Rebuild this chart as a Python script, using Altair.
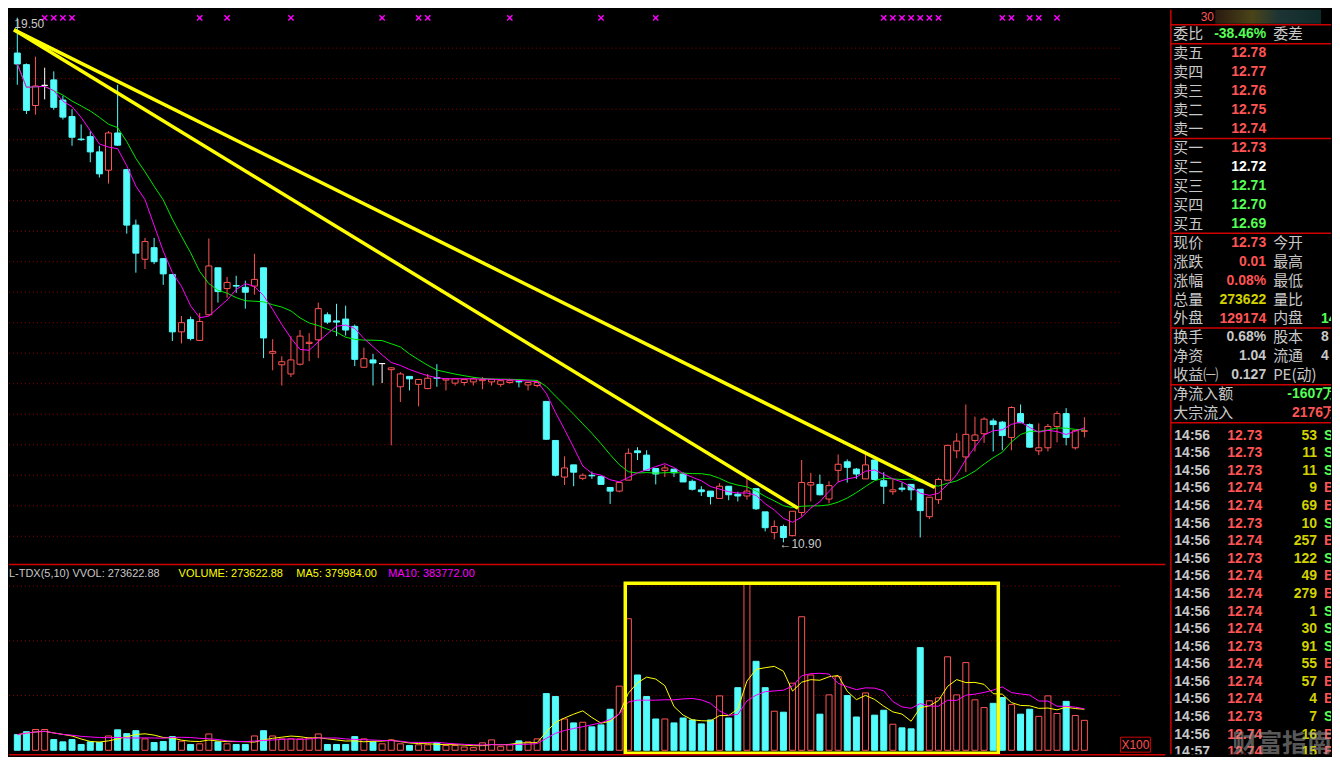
import altair as alt
import pandas as pd

# ---------------- data ----------------
opens = [18.92, 18.73, 18.06, 18.39, 18.48, 18.15, 17.88, 17.51, 17.55, 17.30,
         17.00, 17.61, 17.01, 16.10, 15.54, 15.73, 15.55, 15.29, 14.35, 14.55,
         14.21, 14.63, 15.40, 15.06, 15.11, 15.08, 15.10, 15.40, 14.00, 13.81,
         13.66, 13.82, 14.16, 14.22, 14.63, 14.53, 14.56, 14.44, 13.77, 13.89,
         13.83, 13.73, 13.45, 13.62, 13.49, 13.42, 13.60, 13.56, 13.51, 13.52,
         13.53, 13.55, 13.53, 13.49, 13.52, 13.54, 13.48, 13.47, 13.21, 12.57,
         11.97, 12.17, 11.95, 12.00, 11.98, 11.80, 11.74, 11.92, 12.40, 12.33,
         12.11, 12.08, 12.10, 12.02, 11.90, 11.76, 11.74, 11.62, 11.82, 11.69,
         11.66, 11.78, 11.40, 11.06, 11.16, 11.01, 11.39, 11.84, 11.85, 11.61,
         12.08, 12.22, 12.10, 11.94, 12.25, 11.91, 11.73, 11.79, 11.85, 11.77,
         11.32, 11.60, 11.92, 12.40, 12.30, 12.57, 12.68, 12.89, 12.87, 12.62,
         13.01, 12.83, 12.40, 12.45, 12.80, 13.01, 12.45, 12.72]
highs = [19.50, 18.75, 18.86, 18.68, 18.62, 18.22, 18.00, 17.75, 17.64, 17.40,
         17.64, 18.40, 17.02, 16.19, 15.89, 15.89, 15.56, 15.29, 14.61, 14.60,
         14.66, 15.88, 15.40, 15.25, 15.27, 15.19, 15.63, 15.40, 14.23, 13.95,
         14.28, 14.38, 14.33, 14.83, 14.67, 14.81, 14.78, 14.47, 14.09, 13.99,
         13.83, 13.77, 13.69, 13.62, 13.57, 13.66, 13.82, 13.58, 13.59, 13.57,
         13.61, 13.61, 13.57, 13.55, 13.58, 13.56, 13.52, 13.55, 13.21, 12.57,
         12.31, 12.17, 12.03, 12.06, 11.98, 11.80, 11.88, 12.44, 12.46, 12.41,
         12.11, 12.17, 12.10, 12.05, 11.93, 11.82, 11.74, 11.87, 11.82, 11.73,
         11.98, 11.78, 11.40, 11.26, 11.19, 11.41, 12.25, 12.04, 12.01, 11.90,
         12.34, 12.26, 12.12, 12.36, 12.25, 12.05, 11.93, 11.88, 11.85, 11.77,
         11.64, 11.96, 12.49, 12.69, 13.16, 12.96, 12.95, 12.93, 12.89, 13.13,
         13.16, 12.85, 12.85, 12.84, 13.05, 13.10, 12.73, 12.95]
lows = [18.40, 17.92, 17.91, 18.16, 17.99, 17.83, 17.40, 17.48, 17.13, 16.88,
        16.78, 17.40, 15.96, 15.32, 15.38, 15.46, 15.12, 14.20, 14.16, 14.21,
        14.20, 14.62, 14.83, 14.91, 14.99, 14.73, 14.96, 13.92, 13.72, 13.47,
        13.61, 13.80, 13.87, 13.92, 14.48, 14.28, 14.29, 13.79, 13.77, 13.47,
        13.51, 12.49, 13.20, 13.39, 13.13, 13.41, 13.45, 13.39, 13.47, 13.47,
        13.47, 13.41, 13.47, 13.45, 13.50, 13.44, 13.39, 13.44, 12.58, 11.98,
        11.84, 11.82, 11.92, 11.94, 11.85, 11.53, 11.72, 11.92, 12.25, 12.08,
        11.85, 11.97, 11.97, 11.89, 11.75, 11.66, 11.52, 11.62, 11.59, 11.57,
        11.60, 11.43, 11.08, 10.95, 10.90, 11.00, 11.32, 11.57, 11.67, 11.54,
        11.89, 11.88, 11.94, 11.94, 11.93, 11.53, 11.68, 11.73, 11.59, 10.98,
        11.28, 11.53, 11.92, 12.28, 12.05, 12.39, 12.53, 12.39, 12.41, 12.41,
        12.86, 12.45, 12.33, 12.39, 12.54, 12.49, 12.42, 12.62]
closes = [18.74, 17.98, 18.38, 18.39, 18.03, 17.87, 17.54, 17.50, 17.30, 16.94,
          17.61, 17.41, 16.10, 15.64, 15.83, 15.50, 15.30, 14.35, 14.50, 14.24,
          14.52, 15.43, 15.01, 15.16, 15.10, 15.00, 15.21, 14.25, 14.03, 13.86,
          13.89, 14.28, 14.18, 14.73, 14.51, 14.51, 14.38, 13.90, 13.91, 13.84,
          13.83, 13.76, 13.66, 13.58, 13.57, 13.59, 13.59, 13.58, 13.58, 13.57,
          13.58, 13.57, 13.57, 13.55, 13.55, 13.53, 13.52, 13.52, 12.59, 12.00,
          12.12, 12.05, 12.00, 11.99, 11.85, 11.74, 11.88, 12.36, 12.37, 12.08,
          12.02, 12.12, 12.04, 11.89, 11.77, 11.73, 11.65, 11.82, 11.68, 11.66,
          11.74, 11.45, 11.14, 11.16, 10.98, 11.41, 11.88, 11.88, 11.68, 11.83,
          12.18, 12.13, 12.02, 12.17, 11.93, 11.82, 11.76, 11.77, 11.76, 11.42,
          11.64, 11.93, 12.49, 12.56, 12.67, 12.66, 12.92, 12.83, 12.65, 13.11,
          12.86, 12.46, 12.45, 12.80, 13.01, 12.62, 12.73, 12.73]
volumes = [1430, 1700, 1900, 1900, 980, 770, 980, 530, 770, 710,
           1310, 1870, 1520, 1790, 1040, 710, 800, 1250, 830, 530,
           590, 1490, 770, 590, 530, 530, 1310, 1790, 1310, 1040,
           1040, 1040, 1130, 1490, 530, 530, 530, 1250, 1040, 770,
           590, 950, 590, 440, 500, 500, 680, 440, 440, 300,
           240, 680, 950, 330, 500, 860, 770, 1040, 5180, 4910,
           2860, 2500, 2560, 2140, 2320, 3750, 5860, 12020, 6880, 4910,
           2860, 2860, 2500, 2950, 2770, 2410, 2770, 4970, 2950, 5720,
           15200, 8130, 5720, 3570, 3480, 6130, 12200, 6880, 3300, 5060,
           6730, 5000, 3040, 5240, 3210, 3660, 2380, 2050, 1960, 9380,
           4520, 4790, 8540, 5060, 8010, 4610, 3900, 4290, 4820, 4170,
           3300, 3750, 3100, 4970, 3360, 4470, 3180, 2736]
signal_bars = [3, 4, 5, 6, 20, 23, 30, 40, 44, 45, 54, 64, 70,
               95, 96, 97, 98, 99, 100, 101, 108, 109, 111, 112, 114]

price_grid = [11.0, 11.5, 12.0, 12.5, 13.0, 13.5, 14.0, 14.5, 15.0,
              15.5, 16.0, 16.5, 17.0, 17.5, 18.0, 18.5, 19.0]
price_ticks = price_grid + [19.5]
volume_ticks = [5000, 7500, 10000, 12500, 15000]
volume_grid = [5000, 10000, 15000]

trend_start_bar = [-0.36, -0.36]
trend_start_price = [19.30, 19.30]
trend_end_bar = [100.6, 85.6]
trend_end_price = [11.80, 11.46]

box_bar = [66.66, 107.56]
box_vol = [-270, 15270]

vol_header_texts = ["L-TDX(5,10) VVOL: 273622.88", "VOLUME: 273622.88",
                    "MA5: 379984.00", "MA10: 383772.00"]

quote_rows = list(range(1, 22))
quote_labels = ["委比", "卖五", "卖四", "卖三", "卖二", "卖一",
                "买一", "买二", "买三", "买四", "买五",
                "现价", "涨跌", "涨幅", "总量", "外盘",
                "换手", "净资", "收益㈠", "净流入额", "大宗流入"]
quote_values = ["-38.46%", "12.78", "12.77", "12.76", "12.75", "12.74",
                "12.73", "12.72", "12.71", "12.70", "12.69",
                "12.73", "0.01", "0.08%", "273622", "129174",
                "0.68%", "1.04", "0.127", "-1607万", "2176万"]
quote_value_kind = ["dn", "up", "up", "up", "up", "up",
                    "up", "eq", "dn", "dn", "dn",
                    "up", "up", "up", "vol", "up",
                    "nt", "nt", "nt", "dn", "up"]
quote2_rows = [1, 12, 13, 14, 15, 16, 17, 18, 19]
quote2_labels = ["委差", "今开", "最高", "最低", "量比", "内盘", "股本", "流通", "PE(动)"]
quote3_rows = [16, 17, 18]
quote3_values = ["14", "8", "4"]
quote3_kind = ["dn", "nt", "nt"]
separator_rows = [0.5, 1.5, 6.5, 11.5, 16.5, 19.5, 21.5]

tick_times = ["14:56"] * 18 + ["14:57"]
tick_prices = ["12.73", "12.73", "12.73", "12.74", "12.74", "12.73", "12.74", "12.73",
               "12.74", "12.74", "12.74", "12.74", "12.73", "12.74", "12.74", "12.74",
               "12.73", "12.74", "12.74"]
tick_vols = ["53", "11", "11", "9", "69", "10", "257", "122", "49", "279",
             "1", "30", "91", "55", "57", "4", "7", "16", "15"]
tick_sides = ["S", "S", "S", "B", "B", "S", "B", "S", "B", "B",
              "S", "S", "S", "B", "B", "B", "S", "B", "B"]

# ---------------- styling ----------------
BLACK = "#000000"
RED = "#ff5454"
CYAN = "#54fcfc"
WHITE = "#ffffff"
MAG = "#ff00ff"
GREEN = "#00e800"
YEL = "#ffff00"
GRID = "#8a0000"
AXRED = "#d00000"
LBLRED = "#ff5050"
GRAY = "#c8c8c8"
OLIVE = "#d2d200"
BGREEN = "#55ff55"
NUMFONT = "Liberation Sans"
CJK = "Noto Sans CJK SC"

W, HP, HV, AXW, PW = 1113, 555, 191, 46, 161
HT = HP + HV

n = len(opens)
df = pd.DataFrame({"i": list(range(n)), "open": opens, "high": highs,
                   "low": lows, "close": closes, "vol": volumes})
df["wick"] = [RED if c > o else (CYAN if c < o else WHITE) for o, c in zip(opens, closes)]
df["bfill"] = [BLACK if c > o else (CYAN if c < o else WHITE) for o, c in zip(opens, closes)]
df["vfill"] = [CYAN if c < o else BLACK for o, c in zip(opens, closes)]
df["vstroke"] = [CYAN if c < o else RED for o, c in zip(opens, closes)]
df["base"] = 0

xs = alt.Scale(domain=[-0.364, 120.3], nice=False, zero=False)
ps = alt.Scale(domain=[10.552, 19.628], nice=False, zero=False)
vs = alt.Scale(domain=[-446, 16967], nice=False, zero=False)
X = alt.X("i:Q", scale=xs, axis=None)

base = alt.Chart(df)

# ---------------- price panel ----------------
price_axis = alt.Axis(orient="right", values=price_ticks, format=".2f", grid=False,
                      domainColor=AXRED, domainWidth=1.5, tickColor=AXRED, tickSize=5,
                      labelColor=LBLRED, labelFont=NUMFONT, labelFontSize=12,
                      labelAlign="right", labelBaseline="middle", labelPadding=41,
                      labelOverlap=False, labelFlush=False, title=None)
p_grid = alt.Chart(pd.DataFrame({"p": price_grid})).mark_rule(
    color=GRID, strokeDash=[1, 3], strokeWidth=1).encode(
    y=alt.Y("p:Q", scale=ps, axis=price_axis))

trend_df = pd.DataFrame({"x1": trend_start_bar, "x2": trend_end_bar,
                         "p1": trend_start_price, "p2": trend_end_price})
p_trend = alt.Chart(trend_df).mark_rule(color=YEL, strokeWidth=3.5, clip=True).encode(
    x=alt.X("x1:Q", scale=xs, axis=None), x2="x2:Q",
    y=alt.Y("p1:Q", scale=ps, axis=None), y2="p2:Q")

p_wick = base.mark_rule(strokeWidth=1).encode(
    x=X, y=alt.Y("low:Q", scale=ps, axis=None), y2="high:Q",
    color=alt.Color("wick:N", scale=None))
p_body = base.mark_bar(size=6, strokeWidth=1).encode(
    x=X, y=alt.Y("open:Q", scale=ps, axis=None), y2="close:Q",
    fill=alt.Fill("bfill:N", scale=None), stroke=alt.Stroke("wick:N", scale=None))

ma_base = base.transform_window(ma5="mean(close)", frame=[-4, 0], sort=[{"field": "i"}]) \
    .transform_window(ma10="mean(close)", frame=[-9, 0], sort=[{"field": "i"}])
p_ma5 = ma_base.mark_line(color=MAG, strokeWidth=1, clip=True).encode(
    x=X, y=alt.Y("ma5:Q", scale=ps, axis=None))
p_ma10 = ma_base.mark_line(color=GREEN, strokeWidth=1, clip=True).encode(
    x=X, y=alt.Y("ma10:Q", scale=ps, axis=None))

p_sig = alt.Chart(pd.DataFrame({"i": signal_bars})).mark_point(
    shape="M-1,-1L1,1M-1,1L1,-1", size=28, stroke=MAG, strokeWidth=1.4,
    filled=False, opacity=1).encode(x=X, y=alt.value(8))

hi_i = max(range(n), key=lambda k: highs[k])
lo_i = min(range(n), key=lambda k: lows[k])
hi_df = pd.DataFrame({"i": [hi_i], "p": [highs[hi_i]], "t": [f"{highs[hi_i]:.2f}"]})
lo_df = pd.DataFrame({"i": [lo_i], "p": [lows[lo_i]], "t": [f"←{lows[lo_i]:.2f}"]})
p_hi = alt.Chart(hi_df).mark_text(align="left", baseline="middle", dx=-3, dy=6,
                                  color=GRAY, font=NUMFONT, fontSize=12, clip=True).encode(
    x=X, y=alt.Y("p:Q", scale=ps, axis=None), text="t:N")
p_lo = alt.Chart(lo_df).mark_text(align="left", baseline="middle", dx=-4, dy=2,
                                  color=GRAY, font=NUMFONT, fontSize=12, clip=True).encode(
    x=X, y=alt.Y("p:Q", scale=ps, axis=None), text="t:N")

price = alt.layer(p_grid, p_wick, p_body, p_ma10, p_ma5, p_trend, p_sig, p_hi, p_lo).properties(
    width=W, height=HP)

# ---------------- volume panel ----------------
vol_axis = alt.Axis(orient="right", values=volume_ticks, format="d", grid=False,
                    domainColor=AXRED, domainWidth=1.5, tickColor=AXRED, tickSize=5,
                    labelColor=LBLRED, labelFont=NUMFONT, labelFontSize=12,
                    labelAlign="right", labelBaseline="middle", labelPadding=41,
                    labelOverlap=False, labelFlush=False, title=None)
v_grid = alt.Chart(pd.DataFrame({"v": volume_grid})).mark_rule(
    color=GRID, strokeDash=[1, 3], strokeWidth=1).encode(
    y=alt.Y("v:Q", scale=vs, axis=vol_axis))
v_bar = base.mark_bar(size=6, strokeWidth=1).encode(
    x=X, y=alt.Y("vol:Q", scale=vs, axis=None), y2="base:Q",
    fill=alt.Fill("vfill:N", scale=None), stroke=alt.Stroke("vstroke:N", scale=None))
vma_base = base.transform_window(vma5="mean(vol)", frame=[-4, 0], sort=[{"field": "i"}]) \
    .transform_window(vma10="mean(vol)", frame=[-9, 0], sort=[{"field": "i"}])
v_ma5 = vma_base.mark_line(color=YEL, strokeWidth=1, clip=True).encode(
    x=X, y=alt.Y("vma5:Q", scale=vs, axis=None))
v_ma10 = vma_base.mark_line(color=MAG, strokeWidth=1, clip=True).encode(
    x=X, y=alt.Y("vma10:Q", scale=vs, axis=None))
box_df = pd.DataFrame({"b1": [box_bar[0]], "b2": [box_bar[1]],
                       "v1": [box_vol[0]], "v2": [box_vol[1]]})
v_box = alt.Chart(box_df).mark_rect(fillOpacity=0, stroke=YEL, strokeWidth=3.5).encode(
    x=alt.X("b1:Q", scale=xs, axis=None), x2="b2:Q",
    y=alt.Y("v1:Q", scale=vs, axis=None), y2="v2:Q")

one = pd.DataFrame({"k": [0]})
v_top = alt.Chart(one).mark_rule(color=AXRED, strokeWidth=1.5).encode(
    x=alt.value(0), x2=alt.value(W + AXW), y=alt.value(0))
v_bottom = alt.Chart(one).mark_rule(color=AXRED, strokeWidth=1.5).encode(
    x=alt.value(0), x2=alt.value(W + AXW), y=alt.value(HV - 0.5))
v_xbox = alt.Chart(one).mark_rect(fillOpacity=0, stroke=AXRED, strokeWidth=1).encode(
    x=alt.value(W + 1), x2=alt.value(W + 31), y=alt.value(173), y2=alt.value(188))
v_xtxt = alt.Chart(pd.DataFrame({"t": ["X100"]})).mark_text(
    align="center", baseline="middle", color=LBLRED, font=NUMFONT, fontSize=12).encode(
    x=alt.value(W + 16), y=alt.value(181), text="t:N")

hdr_layers = []
for txt, col, xp in zip(vol_header_texts, [GRAY, YEL, YEL, MAG], [0, 170, 288, 380]):
    hdr_layers.append(alt.Chart(pd.DataFrame({"t": [txt]})).mark_text(
        align="left", baseline="middle", color=col, font=NUMFONT, fontSize=11).encode(
        x=alt.value(xp), y=alt.value(9), text="t:N"))

volume = alt.layer(v_grid, v_bar, v_ma5, v_ma10, v_box, v_top, v_bottom, v_xbox, v_xtxt,
                   *hdr_layers).properties(width=W, height=HV)

# ---------------- info panel ----------------
kind_color = {"up": RED, "dn": BGREEN, "eq": WHITE, "vol": OLIVE, "nt": GRAY}
ysA = alt.Scale(domain=[-0.289, 38.99], reverse=True, nice=False, zero=False)
ysB = alt.Scale(domain=[-24.22, 18.11], reverse=True, nice=False, zero=False)

qdf = pd.DataFrame({"r": quote_rows, "lab": quote_labels, "val": quote_values,
                    "c": [kind_color[k] for k in quote_value_kind]})
qdf_main = qdf[qdf["r"] < 20]
qdf_flow = qdf[qdf["r"] >= 20]
q2df = pd.DataFrame({"r": quote2_rows, "lab": quote2_labels})
q3df = pd.DataFrame({"r": quote3_rows, "val": quote3_values,
                     "c": [kind_color[k] for k in quote3_kind]})
sepdf = pd.DataFrame({"r": separator_rows})

YA = lambda: alt.Y("r:Q", scale=ysA, axis=None)
YB = lambda: alt.Y("r:Q", scale=ysB, axis=None)

i_border = alt.Chart(one).mark_rule(color=AXRED, strokeWidth=1.5).encode(
    x=alt.value(0.5), y=alt.value(0), y2=alt.value(HT))
i_sep = alt.Chart(sepdf).mark_rule(color=AXRED, strokeWidth=1.5).encode(
    x=alt.value(0), x2=alt.value(PW), y=YA())
i_head = alt.Chart(pd.DataFrame({"r": [-0.289], "r2": [0.45]})).mark_rect(
    fill=alt.LinearGradient(gradient="linear", x1=0, y1=0, x2=1, y2=0,
                            stops=[alt.GradientStop(color="#2a1a10", offset=0),
                                   alt.GradientStop(color="#4a4418", offset=0.35),
                                   alt.GradientStop(color="#1d3434", offset=0.6),
                                   alt.GradientStop(color="#0f2a2a", offset=1)])).encode(
    x=alt.value(45), x2=alt.value(151), y=YA(), y2="r2:Q")
i_head_txt = alt.Chart(pd.DataFrame({"r": [0.1], "t": ["30"]})).mark_text(
    align="center", baseline="middle", color=RED, font=NUMFONT, fontSize=12).encode(
    x=alt.value(37), y=YA(), text="t:N")
i_lab = alt.Chart(qdf).mark_text(align="left", baseline="middle", color=GRAY,
                                 font=CJK, fontSize=15, clip=True).encode(
    x=alt.value(3), y=YA(), text="lab:N")
i_val = alt.Chart(qdf_main).mark_text(align="right", baseline="middle", font=NUMFONT,
                                      fontSize=14, fontWeight="bold", clip=True).encode(
    x=alt.value(96), y=YA(), text="val:N", color=alt.Color("c:N", scale=None))
i_flow = alt.Chart(qdf_flow).mark_text(align="right", baseline="middle", font=NUMFONT,
                                       fontSize=14, fontWeight="bold", clip=True).encode(
    x=alt.value(167), y=YA(), text="val:N", color=alt.Color("c:N", scale=None))
i_lab2 = alt.Chart(q2df).mark_text(align="left", baseline="middle", color=GRAY,
                                   font=CJK, fontSize=15, clip=True).encode(
    x=alt.value(103), y=YA(), text="lab:N")
i_val3 = alt.Chart(q3df).mark_text(align="left", baseline="middle", font=NUMFONT,
                                   fontSize=14, fontWeight="bold", clip=True).encode(
    x=alt.value(151), y=YA(), text="val:N", color=alt.Color("c:N", scale=None))

tdf = pd.DataFrame({"r": list(range(len(tick_times))), "tm": tick_times, "pr": tick_prices,
                    "vo": tick_vols, "sd": tick_sides,
                    "sc": [RED if s == "B" else BGREEN for s in tick_sides]})
t_time = alt.Chart(tdf).mark_text(align="left", baseline="middle", color=GRAY, font=NUMFONT,
                                  fontSize=14, fontWeight="bold", clip=True).encode(
    x=alt.value(4), y=YB(), text="tm:N")
t_price = alt.Chart(tdf).mark_text(align="right", baseline="middle", color=RED, font=NUMFONT,
                                   fontSize=14, fontWeight="bold", clip=True).encode(
    x=alt.value(92), y=YB(), text="pr:N")
t_vol = alt.Chart(tdf).mark_text(align="right", baseline="middle", color=OLIVE, font=NUMFONT,
                                 fontSize=14, fontWeight="bold", clip=True).encode(
    x=alt.value(147), y=YB(), text="vo:N")
t_side = alt.Chart(tdf).mark_text(align="left", baseline="middle", font=NUMFONT,
                                  fontSize=14, fontWeight="bold", clip=True).encode(
    x=alt.value(154), y=YB(), text="sd:N", color=alt.Color("sc:N", scale=None))
wm = alt.Chart(pd.DataFrame({"r": [17.55], "t": ["财富指南"]})).mark_text(
    align="center", baseline="middle", color="#a0a0a0", opacity=0.55, font=CJK,
    fontSize=25, fontWeight="bold", clip=True).encode(
    x=alt.value(112), y=YB(), text="t:N")

info = alt.layer(i_head, i_head_txt, i_sep, i_border, i_lab, i_val, i_flow, i_lab2, i_val3,
                 t_time, t_price, t_vol, t_side, wm).resolve_scale(y="independent").properties(
    width=PW, height=HT)

left = alt.vconcat(price, volume, spacing=0).resolve_scale(x="independent", y="independent")
chart = alt.hconcat(left, info, spacing=3).resolve_scale(
    x="independent", y="independent").properties(
    padding=0, background=BLACK).configure_view(strokeWidth=0)

chart.save("out.html", embed_options={"renderer": "svg", "actions": False})
